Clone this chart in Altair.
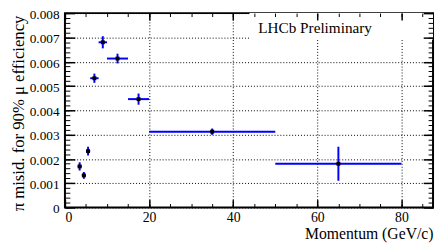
import altair as alt
import pandas as pd

# data
momentum = [3.5, 4.5, 5.5, 7.0, 9.0, 12.5, 17.5, 35.0, 65.0]
mom_lo = [3.0, 4.0, 5.0, 6.0, 8.0, 10.0, 15.0, 20.0, 50.0]
mom_hi = [4.0, 5.0, 6.0, 8.0, 10.0, 15.0, 20.0, 50.0, 80.0]
misid = [0.00169, 0.00132, 0.00232, 0.00532, 0.00680, 0.00613, 0.00446, 0.00312, 0.00180]
misid_err = [0.00017, 0.00014, 0.00018, 0.00019, 0.00025, 0.00020, 0.00023, 0.00013, 0.00070]

x_major = [0, 20, 40, 60, 80]
x_minor = [5 * i for i in range(18)]
y_major = [round(0.001 * i, 4) for i in range(9)]
y_minor = [round(0.0002 * i, 4) for i in range(41)]

W, H = 375, 198
FONT = "Liberation Serif"

df = pd.DataFrame({
    "p": momentum, "plo": mom_lo, "phi": mom_hi, "e": misid,
    "elo": [v - d for v, d in zip(misid, misid_err)],
    "ehi": [v + d for v, d in zip(misid, misid_err)],
})

xs = alt.Scale(domain=[0, 87.5], nice=False, zero=False)
ys = alt.Scale(domain=[0, 0.008], nice=False, zero=False)


def tick_axis(orient, offset, values, size, width):
    return alt.Axis(orient=orient, offset=offset, values=values, tickSize=size,
                    tickWidth=width, tickColor="black", labels=False, domain=False,
                    grid=False, title=None, zindex=1)


base = alt.Chart(df)

xerr = base.mark_rule(color="#0000ff", strokeWidth=2).encode(
    x=alt.X("plo:Q", scale=xs, axis=alt.Axis(
        orient="bottom", values=x_major, ticks=False, domain=False,
        grid=True, gridColor="black", gridDash=[1, 2], gridWidth=1,
        labelFont=FONT, labelFontSize=14, labelColor="black", labelPadding=3,
        title="Momentum (GeV/c)", titleFont=FONT, titleFontSize=16,
        titleFontWeight="normal", titleColor="black", titleAlign="right",
        titleBaseline="alphabetic", titleX=W, titleY=32, zindex=0)),
    x2="phi:Q",
    y=alt.Y("e:Q", scale=ys, axis=alt.Axis(
        orient="left", values=y_major, ticks=False, domain=False,
        grid=True, gridColor="black", gridDash=[1, 2], gridWidth=1,
        labelExpr="datum.value == 0 ? '0' : format(datum.value, '.3f')",
        labelFont=FONT, labelFontSize=13.5, labelColor="black", labelPadding=6,
        labelOffset=1.5,
        title="π misid. for 90% μ efficiency", titleFont=FONT, titleFontSize=17,
        titleFontWeight="normal", titleColor="black", titleAngle=270,
        titleAlign="right", titleBaseline="middle", titleX=-47, titleY=2,
        zindex=0)),
)

yerr = base.mark_rule(color="#0000ff", strokeWidth=2).encode(
    x=alt.X("p:Q", scale=xs, axis=tick_axis("top", -H, x_major, 8, 1.5)),
    y=alt.Y("elo:Q", scale=ys, axis=tick_axis("right", -W, y_major, 10, 1.5)),
    y2="ehi:Q",
)

pts = base.mark_square(color="black", size=16, opacity=1).encode(
    x=alt.X("p:Q", scale=xs, axis=tick_axis("top", -H, x_minor, 4, 1)),
    y=alt.Y("e:Q", scale=ys, axis=tick_axis("right", -W, y_minor, 5, 1)),
)

inv1 = base.mark_point(opacity=0).encode(
    x=alt.X("p:Q", scale=xs, axis=tick_axis("bottom", -H, x_major, 7, 1.5)),
    y=alt.Y("e:Q", scale=ys, axis=tick_axis("left", -W, y_major, 10, 1.5)),
)

inv2 = base.mark_point(opacity=0).encode(
    x=alt.X("p:Q", scale=xs, axis=tick_axis("bottom", -H, x_minor, 3.5, 1)),
    y=alt.Y("e:Q", scale=ys, axis=tick_axis("left", -W, y_minor, 5, 1)),
)

box = alt.Chart(pd.DataFrame({"a": [0]})).mark_rect(color="white", opacity=1).encode(
    x=alt.value(188), x2=alt.value(W), y=alt.value(0), y2=alt.value(27)
)

label = alt.Chart(pd.DataFrame({"t": ["LHCb Preliminary"]})).mark_text(
    font=FONT, fontSize=15.5, color="black", align="left", baseline="middle"
).encode(text="t:N", x=alt.value(197), y=alt.value(15))

chart = alt.layer(box, xerr, yerr, pts, inv1, inv2, label).resolve_axis(
    x="independent", y="independent"
).properties(
    width=W, height=H,
    autosize=alt.AutoSizeParams(type="none"),
    padding={"left": 58, "top": 3, "right": 2, "bottom": 35},
).configure_view(stroke="black", strokeWidth=2)

chart.save("out.html", embed_options={"renderer": "svg", "actions": False})
